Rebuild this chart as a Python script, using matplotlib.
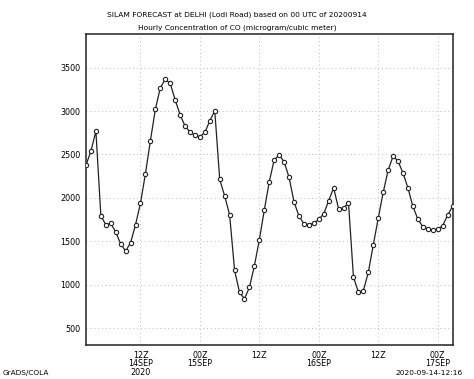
import numpy as np
import matplotlib
matplotlib.use("Agg")
import matplotlib.pyplot as plt

# hours since 00Z 14 Sep 2020 and CO concentration (microgram/m3)
hours = list(range(1, 76))
co = [2378, 2539, 2769, 1794, 1690, 1706, 1606, 1471, 1387, 1483,
      1690, 1940, 2278, 2658, 3019, 3268, 3365, 3319, 3130, 2957,
      2827, 2758, 2720, 2704, 2754, 2888, 3003, 2213, 2021, 1805,
      1165, 911, 838, 969, 1218, 1517, 1859, 2185, 2439, 2493,
      2416, 2236, 1955, 1790, 1702, 1690, 1710, 1752, 1817, 1967,
      2116, 1874, 1882, 1943, 1088, 915, 930, 1142, 1456, 1764,
      2063, 2317, 2481, 2424, 2286, 2116, 1902, 1756, 1667, 1644,
      1632, 1640, 1679, 1798, 1902]

xticks = [12, 24, 36, 48, 60, 72]
xlabels = ['12Z\n14SEP\n2020', '00Z\n15SEP', '12Z', '00Z\n16SEP', '12Z', '00Z\n17SEP']
yticks = [500, 1000, 1500, 2000, 2500, 3000, 3500]

fig = plt.figure(figsize=(4.74, 3.79), dpi=100)
ax = fig.add_axes([86/474, 1-345/379, (452.5-86)/474, (345-34)/379])

ax.plot(hours, co, color='#222222', lw=0.9, marker='o', ms=3.1,
        mfc='white', mec='#222222', mew=0.8, zorder=3)

ax.set_xlim(1, 75)
ax.set_ylim(305, 3888)
ax.set_xticks(xticks)
ax.set_xticklabels(xlabels, fontsize=5.8, linespacing=0.95)
ax.set_yticks(yticks)
ax.set_yticklabels([str(v) for v in yticks], fontsize=5.8)
ax.tick_params(length=0, pad=4)
ax.grid(True, ls=(0, (1, 3)), color='#bbbbbb', lw=0.7)

for s in ax.spines.values():
    s.set_linewidth(1.1)
    s.set_color('#222222')

fig.text(0.5, 1-15/379, 'SILAM FORECAST at DELHI (Lodi Road) based on 00 UTC of 20200914',
         ha='center', va='center', fontsize=5.4)
fig.text(0.5, 1-28/379, 'Hourly Concentration of CO (microgram/cubic meter)',
         ha='center', va='center', fontsize=5.4)
fig.text(3/474, 1-373/379, 'GrADS/COLA', ha='left', va='center', fontsize=5.3)
fig.text(463/474, 1-373/379, '2020-09-14-12:16', ha='right', va='center', fontsize=5.3)

fig.savefig('out.png', dpi=100)
